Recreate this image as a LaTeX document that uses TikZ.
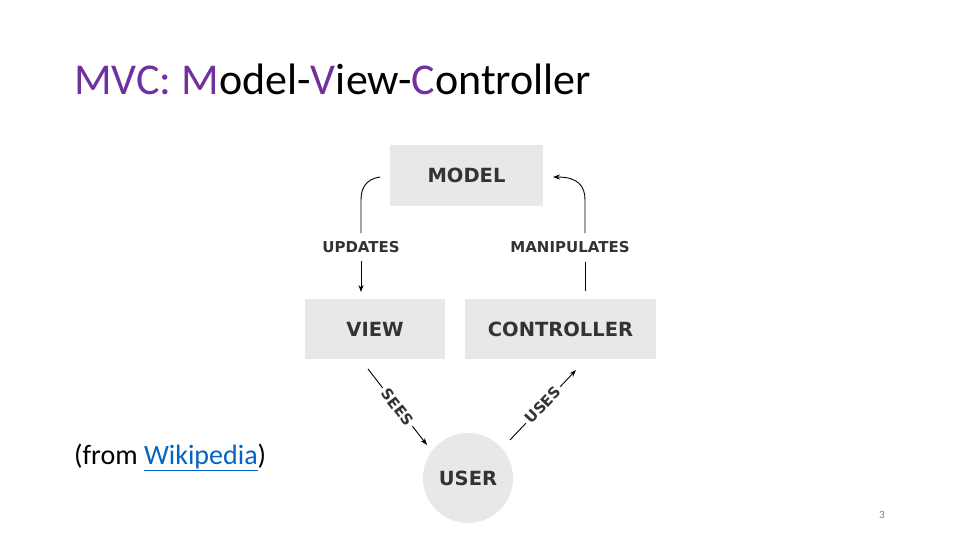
\documentclass[tikz,border=0pt]{standalone}
\usepackage{fontspec}
\setmainfont{Carlito}
\newfontfamily\dv{DejaVu Sans}
\usetikzlibrary{arrows.meta}
\definecolor{purp}{RGB}{112,48,160}
\definecolor{boxg}{RGB}{232,232,232}
\definecolor{txtg}{RGB}{51,51,51}
\definecolor{linkb}{RGB}{5,99,193}
\begin{document}
\begin{tikzpicture}[x=1pt,y=-1pt,
  box/.style={fill=boxg,draw=none,inner sep=0pt,font=\dv\bfseries\fontsize{19.5}{19.5}\selectfont,text=txtg},
  lab/.style={font=\dv\bfseries\fontsize{15}{15}\selectfont,text=txtg,inner sep=1pt},
  arr/.style={line width=0.9pt,-{Stealth[length=7pt,width=5pt]}},
  ln/.style={line width=0.9pt}]
\useasboundingbox (0,0) rectangle (960,540);
\node[anchor=base west,font=\fontsize{44}{44}\selectfont,inner sep=0pt] (title) at (74,95)
 {\textcolor{purp}{MVC: M}odel-\textcolor{purp}{V}iew-\textcolor{purp}{C}ontroller};
\node[box,minimum width=153,minimum height=61] (model) at (466.5,175.5) {MODEL};
\node[box,minimum width=140,minimum height=60] (view) at (375,329) {VIEW};
\node[box,minimum width=191,minimum height=60] (ctrl) at (560.5,329) {CONTROLLER};
\node[box,circle,minimum size=90] (user) at (468,478) {USER};
\node[lab] (upd) at (361,247) {UPDATES};
\node[lab] (man) at (570,247) {MANIPULATES};
\coordinate (u1) at (380,177);
\coordinate (m1) at (553,177);
\draw[ln] (u1) .. controls (366,179) and (361,188) .. (361,200) -- (361,233);
\draw[arr] (361,261) -- (361,292);
\draw[ln] (585,291) -- (585,262);
\draw[arr] (585,233) -- (585,200) .. controls (585,186) and (578,177) .. (m1);
\coordinate (s1) at (368,369);
\coordinate (s2) at (427,445);
\coordinate (w1) at (510,440);
\coordinate (w2) at (576,370);
\draw[arr] (s1) -- node[lab,fill=white,sloped,inner sep=3pt] {SEES} (s2);
\draw[arr] (w1) -- node[lab,fill=white,sloped,inner sep=3pt] {USES} (w2);
\node[anchor=base west,font=\fontsize{28}{28}\selectfont,inner sep=0pt] (src) at (74,464)
 {(from \textcolor{linkb}{\underline{Wikipedia}})};
\node[font=\fontsize{11}{11}\selectfont,text=gray] (pg) at (882,515) {3};
\end{tikzpicture}
\end{document}
